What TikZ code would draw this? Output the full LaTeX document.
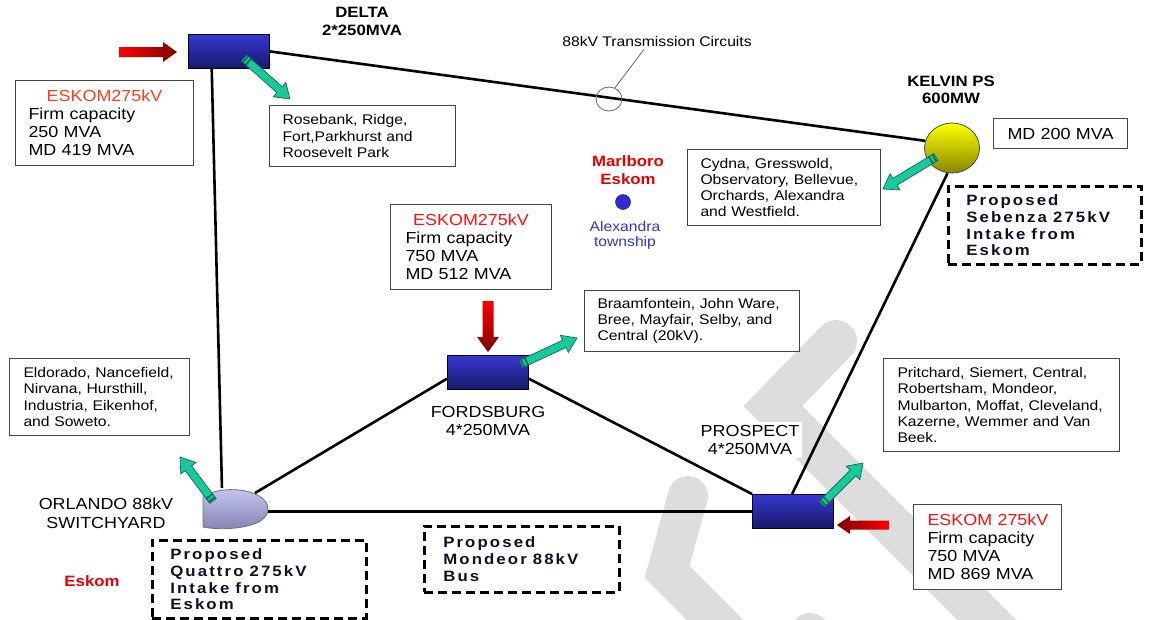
\documentclass[tikz,border=0pt]{standalone}
\usepackage{fontspec}
\setmainfont{Liberation Sans}[FakeStretch=1.12]
\newfontfamily\propfont{Liberation Sans}[FakeStretch=1.12,LetterSpace=14]
\usetikzlibrary{calc,shapes.geometric}
\definecolor{wm}{RGB}{221,221,221}
\definecolor{subtop}{RGB}{55,55,210}
\definecolor{subbot}{RGB}{25,25,105}
\definecolor{kelvtop}{RGB}{255,255,0}
\definecolor{kelvbot}{RGB}{135,135,0}
\definecolor{orltop}{RGB}{205,205,245}
\definecolor{orlbot}{RGB}{130,130,180}
\definecolor{boxedge}{RGB}{70,70,70}
\definecolor{eskomorange}{RGB}{255,60,25}
\definecolor{eskomred}{RGB}{255,15,15}
\definecolor{marlred}{RGB}{230,0,0}
\definecolor{alexblue}{RGB}{50,50,200}
\definecolor{dotblue}{RGB}{45,45,205}
\definecolor{garrowfill}{RGB}{25,200,155}
\definecolor{garrowedge}{RGB}{10,110,85}
\definecolor{rbright}{RGB}{255,0,0}
\definecolor{rdark}{RGB}{125,0,0}
\definecolor{proptext}{RGB}{15,15,40}
\newcommand{\wsp}{\hspace{6pt}}
\newcommand{\garrow}[2]{%
  \pgfpointdiff{\pgfpointanchor{#1}{center}}{\pgfpointanchor{#2}{center}}%
  \pgfgetlastxy{\gdx}{\gdy}%
  \pgfmathsetmacro{\gang}{atan2(\gdy,\gdx)}%
  \pgfmathsetmacro{\glen}{veclen(\gdx,\gdy)}%
  \begin{scope}[shift={(#1)},rotate=\gang]
    \filldraw[fill=garrowfill,draw=garrowedge,line width=0.7pt,line join=miter]
      (0,-4) -- ({\glen-14},-4) -- ({\glen-14},-9.5) -- (\glen,0) -- ({\glen-14},9.5) -- ({\glen-14},4) -- (0,4) -- cycle;
    \fill[garrowedge] (1,-4) rectangle (2.8,4) (5,-4) rectangle (6.8,4);
  \end{scope}}
\begin{document}
\begin{tikzpicture}[x=1pt,y=-1pt,
  conn/.style={line width=2.6pt,draw=black},
  subst/.style={draw=black!80!blue,line width=0.8pt,top color=subtop,bottom color=subbot,
    minimum width=81pt,minimum height=34pt,anchor=north west,inner sep=0pt},
  infobox/.style={draw=boxedge,line width=1pt,fill=white,align=left,anchor=north west,
    font=\fontsize{14}{16.3}\selectfont,inner ysep=3pt},
  eskombox/.style={infobox,font=\fontsize{16}{18}\selectfont},
  propbox/.style={draw=black,line width=2.6pt,dash pattern=on 9pt off 5pt,align=left,
    anchor=north west,font=\propfont\bfseries\fontsize{15}{16.7}\selectfont,text=proptext,inner ysep=3pt},
  lbl/.style={align=center,font=\fontsize{16}{18}\selectfont,inner sep=1pt},
  blbl/.style={align=center,font=\bfseries\fontsize{15}{17}\selectfont,inner sep=1pt}]
\useasboundingbox (0,0) rectangle (1150,619);
% watermark
\begin{scope}
  \clip (0,0) rectangle (1150,619);
  \draw[wm,line width=42pt,line cap=round,line join=miter] (836,341) -- (773,406) -- (1040,673);
  \draw[wm,line width=40pt,line cap=round,line join=miter] (688,496) -- (667,572) -- (735,640);
  \draw[wm,line width=40pt,line cap=round] (810,633) -- (780,700);
\end{scope}
% substations
\node[subst] (delta) at (188,34) {};
\node[subst] (ford) at (447,355) {};
\node[subst] (pros) at (752,494) {};
\node[ellipse,minimum width=55pt,minimum height=50pt,inner sep=0pt,draw=black!70,line width=0.8pt,
  top color=kelvtop,bottom color=kelvbot] (kelvin) at (952,148) {};
\node[minimum width=65pt,minimum height=40pt,inner sep=0pt,anchor=north west] (orl) at (203,488) {};
\draw[draw=black!55,line width=0.8pt,top color=orltop,bottom color=orlbot]
  (203,496) -- (203,527) .. controls (222,531) and (268,529) .. (268,509)
  .. controls (268,491) and (228,483) .. (203,496) -- cycle;
% connectors
\draw[conn] (delta.east) -- (kelvin.165);
\draw[conn] ($(delta.south west)!0.29!(delta.south east)$) -- ($(orl.north west)!0.29!(orl.north east)$);
\draw[conn] ($(orl.north west)+(52,5)$) -- ($(ford.south west)!0.32!(ford.north west)$);
\draw[conn] (pros.west) -- (pros.west -| orl.east);
\draw[conn] ($(ford.south east)!0.32!(ford.north east)$) -- (pros.north west);
\draw[conn] ($(pros.north west)!0.49!(pros.north east)$) -- (kelvin.-100);
% transmission circuit marker
\node[ellipse,draw=black!55,line width=0.9pt,minimum width=26pt,minimum height=24pt,inner sep=0pt] (tc) at (609,99) {};
\node[font=\fontsize{14}{16}\selectfont,inner sep=1pt] (tclbl) at (657,41) {88kV Transmission Circuits};
\draw[black!60,line width=0.8pt] (tc.62) -- ($(tclbl.south)+(-13,2)$);
% labels
\node[blbl,font=\bfseries\fontsize{15}{18}\selectfont] (deltalbl) at (362,21) {DELTA\\2*250MVA};
\node[blbl,font=\bfseries\fontsize{15}{16.5}\selectfont] (kelvlbl) at (951,90) {KELVIN PS\\600MW};
\node[lbl] (fordlbl) at (488,421) {FORDSBURG\\4*250MVA};
\node[lbl,fill=white,inner sep=3pt] (proslbl) at (750,440) {PROSPECT\\4*250MVA};
\node[lbl,font=\fontsize{16}{19}\selectfont] (orllbl) at (106,513) {ORLANDO 88kV\\SWITCHYARD};
\node[blbl,text=marlred,font=\bfseries\fontsize{15}{18}\selectfont] (marl) at (628,170) {Marlboro\\Eskom};
\node[circle,minimum size=15pt,inner sep=0pt,fill=dotblue,draw=dotblue!60!black,line width=0.5pt] (dot) at (623,202) {};
\node[lbl,text=alexblue,font=\fontsize{14}{15}\selectfont] (alex) at (625,235) {Alexandra\\township};
\node[blbl,text=marlred] (eskoml) at (92,581) {Eskom};
% info boxes
\node[infobox,minimum width=186pt,minimum height=61pt,inner xsep=13pt,text width=160pt] (ros) at (269,105)
  {Rosebank, Ridge,\\Fort,Parkhurst and\\Roosevelt Park};
\node[eskombox,minimum width=178pt,minimum height=85pt,inner xsep=13pt,text width=152pt] (esk1) at (15,80)
  {\makebox[\linewidth]{\textcolor{eskomorange}{ESKOM275kV}}\\Firm capacity\\250 MVA\\MD 419 MVA};
\node[infobox,minimum width=193pt,minimum height=76pt,inner xsep=13pt,text width=167pt] (cyd) at (687,149)
  {Cydna, Gresswold,\\Observatory, Bellevue,\\Orchards, Alexandra\\and Westfield.};
\node[infobox,align=center,font=\fontsize{16}{18}\selectfont,minimum width=134pt,minimum height=30pt,inner xsep=4pt,text width=126pt] (md) at (993,118)
  {MD 200 MVA};
\node[eskombox,minimum width=161pt,minimum height=85pt,inner xsep=15pt,text width=131pt] (esk2) at (390,204)
  {\makebox[\linewidth]{\textcolor{eskomred}{ESKOM275kV}}\\Firm capacity\\750 MVA\\MD 512 MVA};
\node[infobox,minimum width=215pt,minimum height=61pt,inner xsep=13pt,text width=189pt] (bra) at (584,290)
  {Braamfontein, John Ware,\\Bree, Mayfair, Selby, and\\Central (20kV).};
\node[infobox,minimum width=180pt,minimum height=77pt,inner xsep=14pt,text width=152pt] (eld) at (9,358)
  {Eldorado, Nancefield,\\Nirvana, Hursthill,\\Industria, Eikenhof,\\and Soweto.};
\node[infobox,minimum width=236pt,minimum height=93pt,inner xsep=14pt,text width=208pt] (pri) at (883,358)
  {Pritchard, Siemert, Central,\\Robertsham, Mondeor,\\Mulbarton, Moffat, Cleveland,\\Kazerne, Wemmer and Van\\Beek.};
\node[eskombox,minimum width=148pt,minimum height=85pt,inner xsep=14pt,text width=120pt] (esk3) at (913,504)
  {\makebox[0pt][l]{\textcolor{eskomred}{ESKOM 275kV}}\\Firm capacity\\750 MVA\\MD 869 MVA};
% proposed boxes
\node[propbox,minimum width=193pt,minimum height=78pt,inner xsep=18pt,text width=157pt] (seb) at (947,185)
  {Proposed\\Sebenza\wsp 275kV\\Intake\wsp from\\Eskom};
\node[propbox,minimum width=214pt,minimum height=78pt,inner xsep=18pt,text width=178pt] (qua) at (151,539)
  {Proposed\\Quattro\wsp 275kV\\Intake\wsp from\\Eskom};
\node[propbox,minimum width=195pt,minimum height=66pt,inner xsep=19pt,text width=157pt] (mon) at (423,525)
  {Proposed\\Mondeor\wsp 88kV\\Bus};
% red supply arrows
\shade[left color=rbright,right color=rdark] (119,47) -- (163,47) -- (163,42) -- (177,52) -- (163,62) -- (163,57) -- (119,57) -- cycle;
\shade[top color=rbright,bottom color=rdark] (482.5,301) -- (493.5,301) -- (493.5,337) -- (499,337) -- (488,352) -- (477,337) -- (482.5,337) -- cycle;
\shade[left color=rdark,right color=rbright] (889,520.5) -- (850,520.5) -- (850,516) -- (837,525) -- (850,534) -- (850,529.5) -- (889,529.5) -- cycle;
% green feeder arrows
\coordinate (gD1) at (244,58);  \coordinate (gD2) at (290,99);
\coordinate (gK1) at (936,157); \coordinate (gK2) at (883,189);
\coordinate (gO1) at (213,501); \coordinate (gO2) at (180,457);
\coordinate (gF1) at (521,364); \coordinate (gF2) at (577,338);
\coordinate (gP1) at (822,504); \coordinate (gP2) at (863,463);
\garrow{gD1}{gD2}
\garrow{gK1}{gK2}
\garrow{gO1}{gO2}
\garrow{gF1}{gF2}
\garrow{gP1}{gP2}
\end{tikzpicture}
\end{document}
